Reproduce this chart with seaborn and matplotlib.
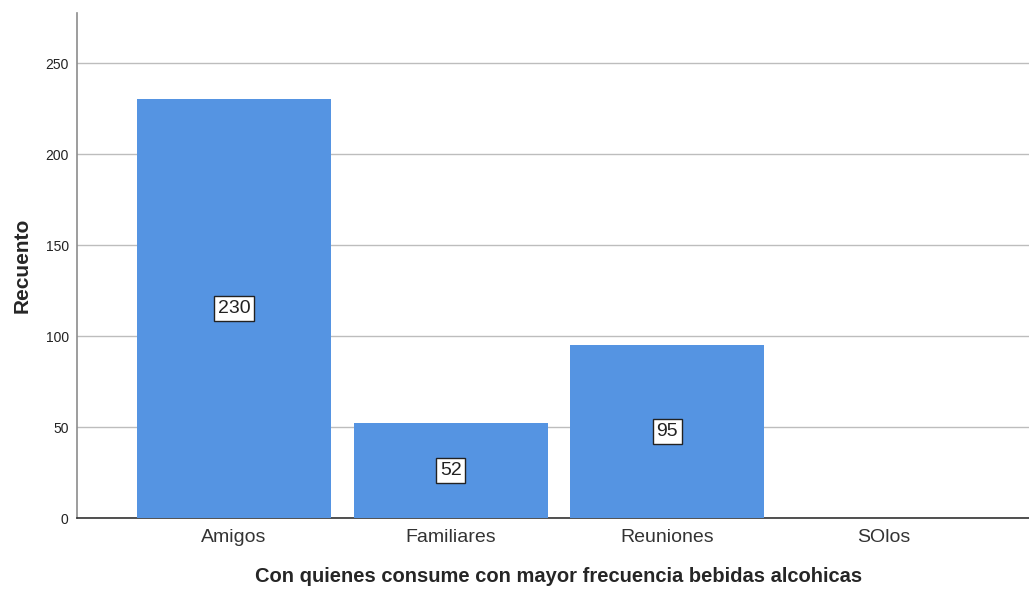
import matplotlib
matplotlib.use("Agg")
import matplotlib.pyplot as plt
import seaborn as sns
import pandas as pd

categories = ["Amigos", "Familiares", "Reuniones", "SOlos"]
counts = [230, 52, 95, 0]

df = pd.DataFrame({"cat": categories, "n": counts})

sns.set_style("white")
plt.rcParams['font.family'] = ['Liberation Sans', 'DejaVu Sans']

fig = plt.figure(figsize=(10.29, 5.90), dpi=100)
ax = fig.add_axes([77/1029, 1 - 518/590, 1 - 77/1029, (518 - 13)/590])

sns.barplot(data=df, x="cat", y="n", color="#5594E2", width=0.895,
            saturation=1, ax=ax, zorder=3, edgecolor="none")

ax.set_ylim(0, 277.5)
ax.set_xlim(-0.725, 3.67)
ax.set_yticks([0, 50, 100, 150, 200, 250])
ax.yaxis.grid(True, color="#BDBDBD", linewidth=1, zorder=0)
ax.set_axisbelow(True)
for s in ["top", "right"]:
    ax.spines[s].set_visible(False)
ax.spines["left"].set_color("#8C8C8C")
ax.spines["left"].set_linewidth(1.2)
ax.spines["bottom"].set_color("#333333")
ax.spines["bottom"].set_linewidth(1.2)
ax.tick_params(axis="both", length=0)
ax.tick_params(axis="y", labelsize=10, colors="#222222", pad=6)
ax.tick_params(axis="x", labelsize=14, colors="#333333", pad=8)

ax.set_ylabel("Recuento", fontsize=15, fontweight="bold", labelpad=10)
ax.set_xlabel("Con quienes consume con mayor frecuencia bebidas alcohicas",
              fontsize=14.5, fontweight="bold")
ax.xaxis.set_label_coords((559 - 77) / (1029 - 77), -0.098)

for i, v in enumerate(counts):
    if v > 0:
        ax.text(i, v / 2, str(v), ha="center", va="center", fontsize=14,
                color="#222222", zorder=5,
                bbox=dict(boxstyle="square,pad=0.2", facecolor="white",
                          edgecolor="#222222", linewidth=1))

fig.savefig("out.png", dpi=100)
